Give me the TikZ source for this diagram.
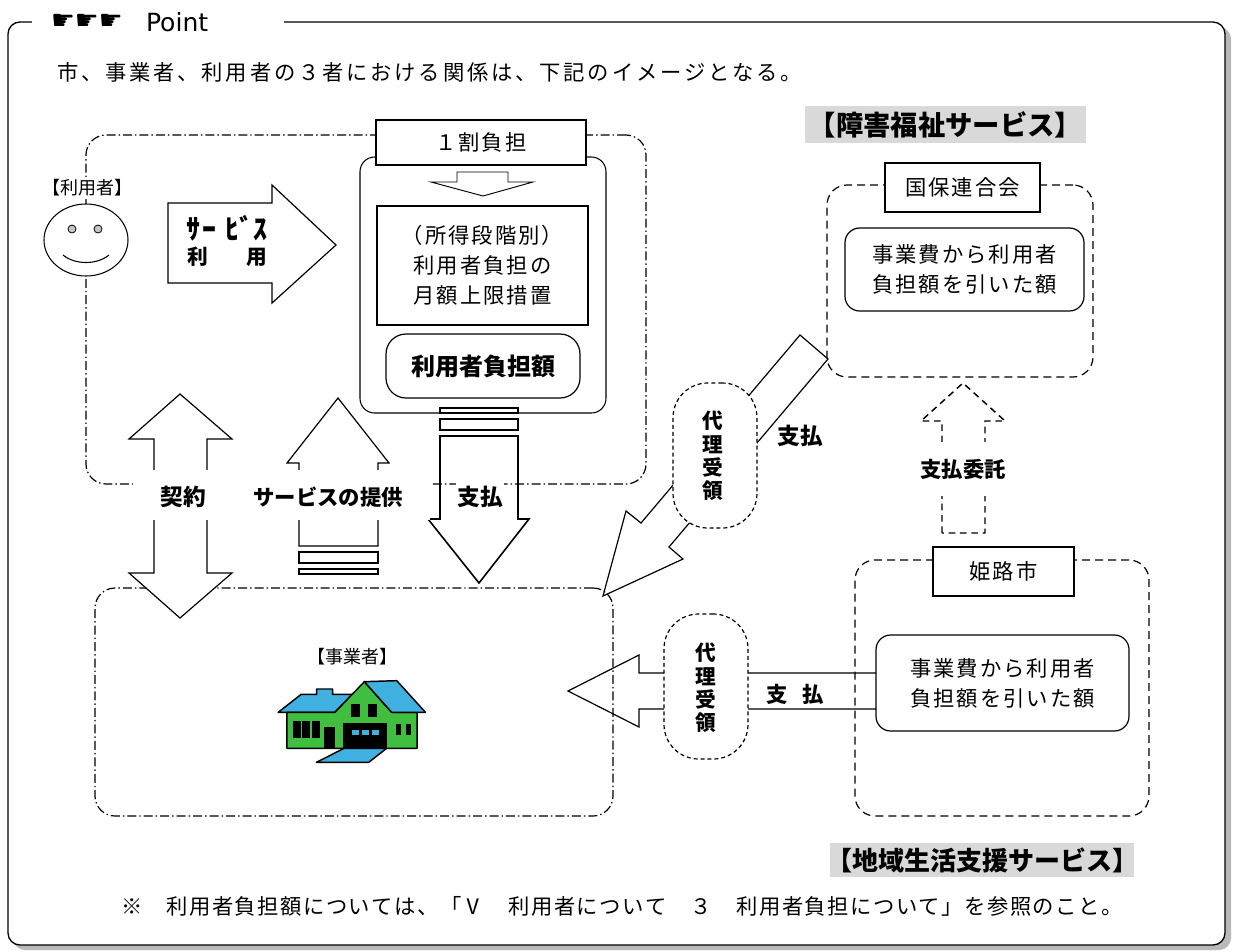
\documentclass[tikz,border=0pt]{standalone}
\usepackage{fontspec}
\setmainfont{Noto Sans CJK JP}
\newfontfamily\symfont{DejaVu Sans}
\usetikzlibrary{fit,shapes.geometric}

% letter-spaced text: \trk{gap}{characters}
\makeatletter
\def\trk@stop{\trk@stop}
\newcommand\trk[2]{\def\trk@gap{\hspace{#1}}\trk@first#2\trk@stop}
\def\trk@first#1{\ifx#1\trk@stop\else#1\expandafter\trk@rest\fi}
\def\trk@rest#1{\ifx#1\trk@stop\else\trk@gap#1\expandafter\trk@rest\fi}
\makeatother
\newcommand\tr[1]{\trk{1.5pt}{#1}}

\definecolor{roofblue}{RGB}{64,176,224}
\definecolor{wallgreen}{RGB}{64,190,64}

\tikzset{
  every node/.style={inner sep=0pt, outer sep=0pt},
  region/.style={draw, line width=0.9pt, rounded corners=15pt},
  dashdot region/.style={region, dash pattern=on 6.75pt off 2.25pt on 1.1pt off 2.25pt},
  dash region/.style={region, dash pattern=on 6pt off 3.75pt},
  labelbox/.style={draw, fill=white, line width=1.4pt},
  softbox/.style={draw, fill=white, line width=0.9pt, rounded corners=11pt},
  blockarrow/.style={draw, line width=0.9pt, line join=miter},
  proxybox/.style={draw, fill=white, line width=0.9pt, dash pattern=on 3pt off 2.2pt, rounded corners=26pt},
  txt/.style={font=\fontsize{16}{22.5}\selectfont, align=center},
  bold/.style={font=\fontsize{17}{19}\selectfont\bfseries, align=center},
  vtext/.style={font=\fontsize{15.5}{17.5}\selectfont\bfseries, align=center},
  grayband/.style={fill=gray!30},
  bandtext/.style={font=\fontsize{20.5}{22}\selectfont\bfseries},
  mask/.style={fill=white},
}

\begin{document}
\begin{tikzpicture}[x=0.75pt,y=-0.75pt]
\useasboundingbox (0,0) rectangle (1233,951);

% page frame with its shadow
\fill[gray!55, rounded corners=9pt] (13,27) rectangle (1231,950);
\node[fit={(8,22) (1225,945)}, draw, fill=white, line width=1pt, rounded corners=9pt] (frame) {};

% heading
\fill[mask] (32,12) rectangle (284,32);
\node[anchor=west, font=\symfont\fontsize{20}{20}\selectfont] (hands) at (51,22) {☛☛☛};
\node[anchor=west, font=\symfont\fontsize{18.8}{20}\selectfont] (title) at (146,22) {Point};

\node[txt, anchor=west] (intro) at (57,72)
  {\trk{2.1pt}{市、事業者、利用者の３者における関係は、下記のイメージとなる。}};

% grouping regions
\node[dashdot region, fit={(86,135) (646,484)}] (userarea) {};
\node[dashdot region, fit={(95,588) (613,816)}] (provarea) {};
\node[dash region, fit={(827,185) (1093,377)}] (kokuho) {};
\node[dash region, fit={(855,560) (1149,816)}] (himeji) {};

% user
\node[mask, txt, font=\fontsize{13.5}{15}\selectfont, inner sep=2pt] (userlbl) at (87,188) {【利用者】};
\node[ellipse, draw, fill=white, line width=0.8pt, minimum width=63pt, minimum height=54pt] (face) at (86,240) {};
\node[circle, draw, fill=gray!45, line width=0.6pt, minimum size=6pt] (eyeL) at (72,229) {};
\node[circle, draw, fill=gray!45, line width=0.6pt, minimum size=6pt] (eyeR) at (98,229) {};
\draw[line width=0.8pt] (63,255) .. controls (75,265) and (97,265) .. (109,255);

% service use
\draw[blockarrow] (168,203) -- (272,203) -- (272,185) -- (336,245) -- (272,303) -- (272,283) -- (168,283) -- cycle;
\node[font=\fontsize{21}{22}\selectfont\bfseries] (uselbl1) at (227,228)
  {ｻ\hspace{1.5pt}ｰ\hspace{7pt}ﾋﾞｽ};
\node[font=\fontsize{15.5}{20}\selectfont\bfseries] (uselbl2) at (227,257)
  {利\hspace{29pt}用};

% burden block
\node[fit={(360,157) (606,413)}, draw, fill=white, line width=0.8pt, rounded corners=11pt] (burden) {};
\node[labelbox, fit={(376,120) (586,165)}] (tenpct) {};
\node[txt] (tenpct-t) at (tenpct.center) {\tr{１割負担}};
\draw[line width=0.7pt] (457,172) -- (508,172) -- (508,182) -- (533,182) -- (483,196) -- (431,182) -- (457,182) -- cycle;
\node[labelbox, fit={(377,206) (588,325)}] (cap) {};
\node[txt] (cap-t) at (cap.center) {\tr{（所得段階別）}\\\tr{利用者負担の}\\\tr{月額上限措置}};
\node[softbox, rounded corners=15pt, fit={(386,334) (580,398)}] (share) {};
\node[bold, font=\fontsize{18}{20}\selectfont\bfseries] (share-t) at (share.center) {利用者負担額};

% payment from user
\draw[line width=1.2pt] (440,408) rectangle (518,413);
\draw[line width=1.2pt] (440,419) rectangle (518,430);
\draw[blockarrow, line width=1.2pt] (440,436) -- (518,436) -- (518,519) -- (529,519) -- (479,583) -- (428,519) -- (440,519) -- cycle;
\node[bold, mask, inner xsep=1pt, inner ysep=4pt] (pay1) at (480,497) {支払};

% provision of service
\draw[blockarrow, fill=white] (299,546) -- (299,463) -- (287,463) -- (338,398) -- (389,463) -- (378,463) -- (378,546) -- cycle;
\draw[line width=1.2pt] (299,552) rectangle (378,563);
\draw[line width=1.2pt] (299,569) rectangle (378,574);

% contract
\draw[blockarrow, fill=white] (154,439) -- (129,439) -- (180,394) -- (232,439) -- (207,439) -- (207,573) -- (232,573) -- (180,618) -- (129,573) -- (154,573) -- cycle;

\fill[mask] (133,470) rectangle (430,520);
\node[bold] (contract) at (183,497) {契約};
\node[bold, font=\fontsize{16}{18}\selectfont\bfseries] (provide) at (328,497) {サービスの提供};

% provider
\node[txt, font=\fontsize{13.5}{15}\selectfont] (provlbl) at (352,657) {【事業者】};
\begin{scope}[shift={(90,580)}, xscale=1/2.96, yscale=1/3, line width=1.1pt, line join=round]
  \draw[fill=roofblue] (557,397) -- (625,343) -- (671,343) -- (671,327) -- (718,327) -- (718,343) -- (776,343) -- (725,397) -- cycle;
  \draw[fill=wallgreen] (583,397) -- (725,397) -- (812,305) -- (893,397) -- (968,397) -- (968,505) -- (583,505) -- cycle;
  \draw[fill=roofblue] (812,305) -- (908,302) -- (993,397) -- (893,397) -- cycle;
  \fill (600,423) rectangle (625,473);
  \fill (628,423) rectangle (652,473);
  \fill (656,423) rectangle (680,473);
  \fill (692,440) rectangle (725,505);
  \fill (772,372) rectangle (800,412);
  \fill (822,372) rectangle (850,412);
  \fill (905,432) rectangle (920,465);
  \fill (935,432) rectangle (950,465);
  \fill (750,430) rectangle (878,505);
  \fill[roofblue] (775,450) rectangle (795,465);
  \fill[roofblue] (805,450) rectangle (825,465);
  \fill[roofblue] (835,450) rectangle (855,465);
  \draw[fill=roofblue] (752,505) -- (878,505) -- (825,547) -- (670,547) -- cycle;
\end{scope}

% disability welfare services
\node[grayband, fit={(805,106) (1086,143)}] (welfare) {};
\node[bandtext] (welfare-t) at (welfare.center) {【障害福祉サービス】};
\node[labelbox, fit={(885,163) (1040,212)}] (kokuholbl) {};
\node[txt] (kokuholbl-t) at (kokuholbl.center) {\tr{国保連合会}};
\node[softbox, fit={(845,228) (1084,311)}] (kokuhoamt) {};
\node[txt] (kokuhoamt-t) at (kokuhoamt.center) {\tr{事業費から利用者}\\\tr{負担額を引いた額}};

\draw[blockarrow] (800,335) -- (828,359) -- (669,547) -- (683,559) -- (603,596) -- (626,511) -- (641,523) -- cycle;
\node[proxybox, fit={(673,383) (757,528)}] (proxy1) {};
\node[vtext] (proxy1-t) at (713,456) {代\\理\\受\\領};
\node[bold] (pay2) at (800,436) {支払};

% payment entrusted
\draw[line width=1.1pt, dash pattern=on 5pt off 3.5pt] (942,533) -- (942,421) -- (921,421) -- (963,383) -- (1005,421) -- (985,421) -- (985,533) -- cycle;
\node[bold, mask, font=\fontsize{16}{18}\selectfont\bfseries, minimum height=41pt, inner xsep=2pt] (consign) at (963,469) {支払委託};

% community life support services
\node[labelbox, fit={(933,547) (1074,596)}] (himejilbl) {};
\node[txt] (himejilbl-t) at (himejilbl.center) {\tr{姫路市}};
\node[softbox, fit={(876,635) (1129,731)}] (himejiamt) {};
\node[txt] (himejiamt-t) at (himejiamt.center) {\tr{事業費から利用者}\\\tr{負担額を引いた額}};
\draw[blockarrow] (876,673) -- (639,673) -- (639,655) -- (568,691) -- (639,727) -- (639,709) -- (876,709);
\node[proxybox, fit={(664,614) (748,759)}] (proxy2) {};
\node[vtext] (proxy2-t) at (706,688) {代\\理\\受\\領};
\node[bold, font=\fontsize{16}{18}\selectfont\bfseries] (pay3) at (795,694) {支\hspace{11pt}払};

\node[grayband, fit={(830,843) (1134,877)}] (community) {};
\node[bandtext, font=\fontsize{19.5}{22}\selectfont\bfseries] (community-t) at (community.center) {【地域生活支援サービス】};

\node[anchor=west, font=\fontsize{16}{18}\selectfont] (note) at (121,906)
  {\trk{1.1pt}{※　利用者負担額については、「Ⅴ　利用者について　３　利用者負担について」を参照のこと。}};

\end{tikzpicture}
\end{document}
